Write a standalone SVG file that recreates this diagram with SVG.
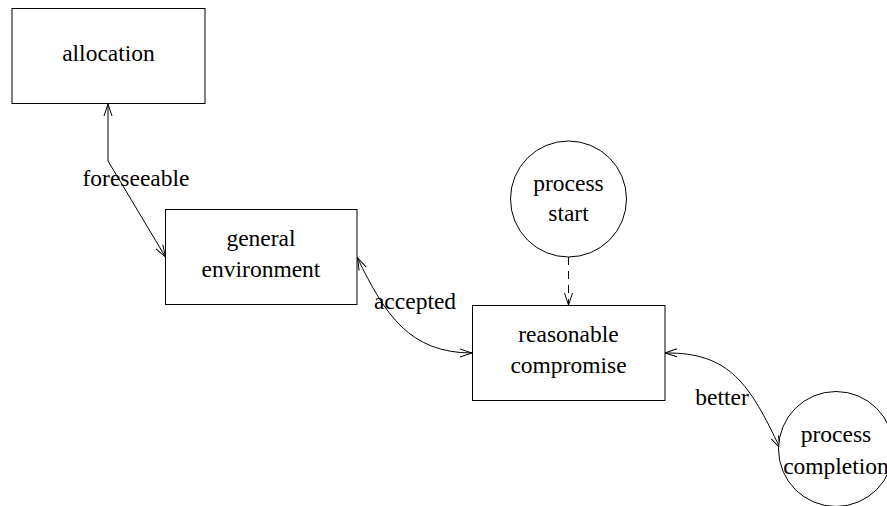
<svg xmlns="http://www.w3.org/2000/svg" width="887" height="506" viewBox="0 0 887 506">
<style>
text{font-family:"Liberation Serif","Times New Roman",serif;font-size:23.5px;fill:#000;text-anchor:middle}
.n{fill:#fff;stroke:#000;stroke-width:1}
.c{fill:none;stroke:#000;stroke-width:1}
</style>
<defs>
<marker id="ah" markerWidth="14" markerHeight="10" refX="13" refY="5" orient="auto-start-reverse" markerUnits="userSpaceOnUse">
<path d="M1,1 L13,5 L1,9" fill="none" stroke="#000" stroke-width="1"/>
</marker>
</defs>
<rect width="887" height="506" fill="#fff"/>
<g id="connectors">
<path class="c" d="M108,104 L108,161 L165.5,257" marker-start="url(#ah)" marker-end="url(#ah)"/>
<path class="c" d="M357.5,258 C385,315 410,353 472,353" marker-start="url(#ah)" marker-end="url(#ah)"/>
<path class="c" d="M568.5,257 L568.5,305" stroke-dasharray="8,6" marker-end="url(#ah)"/>
<path class="c" d="M665,353 C730,352 750,385 780,448" marker-start="url(#ah)" marker-end="url(#ah)"/>
<text x="136" y="186">foreseeable</text>
<text x="415" y="309">accepted</text>
<text x="722" y="405">better</text>
</g>
<g id="allocation">
<rect class="n" x="12" y="8.5" width="193" height="95"/>
<text x="108.5" y="61">allocation</text>
</g>
<g id="general_environment">
<rect class="n" x="165.5" y="209.5" width="191.5" height="95"/>
<text x="261" y="246">general</text>
<text x="261" y="277">environment</text>
</g>
<g id="process_start">
<circle class="n" cx="568.5" cy="199" r="58"/>
<text x="568.5" y="191">process</text>
<text x="568.5" y="221">start</text>
</g>
<g id="reasonable_compromise">
<rect class="n" x="472.5" y="305.5" width="192.5" height="95"/>
<text x="568.5" y="342">reasonable</text>
<text x="568.5" y="373">compromise</text>
</g>
<g id="process_completion">
<circle class="n" cx="836" cy="449" r="57.5"/>
<text x="836" y="442">process</text>
<text x="836" y="474">completion</text>
</g>
</svg>
